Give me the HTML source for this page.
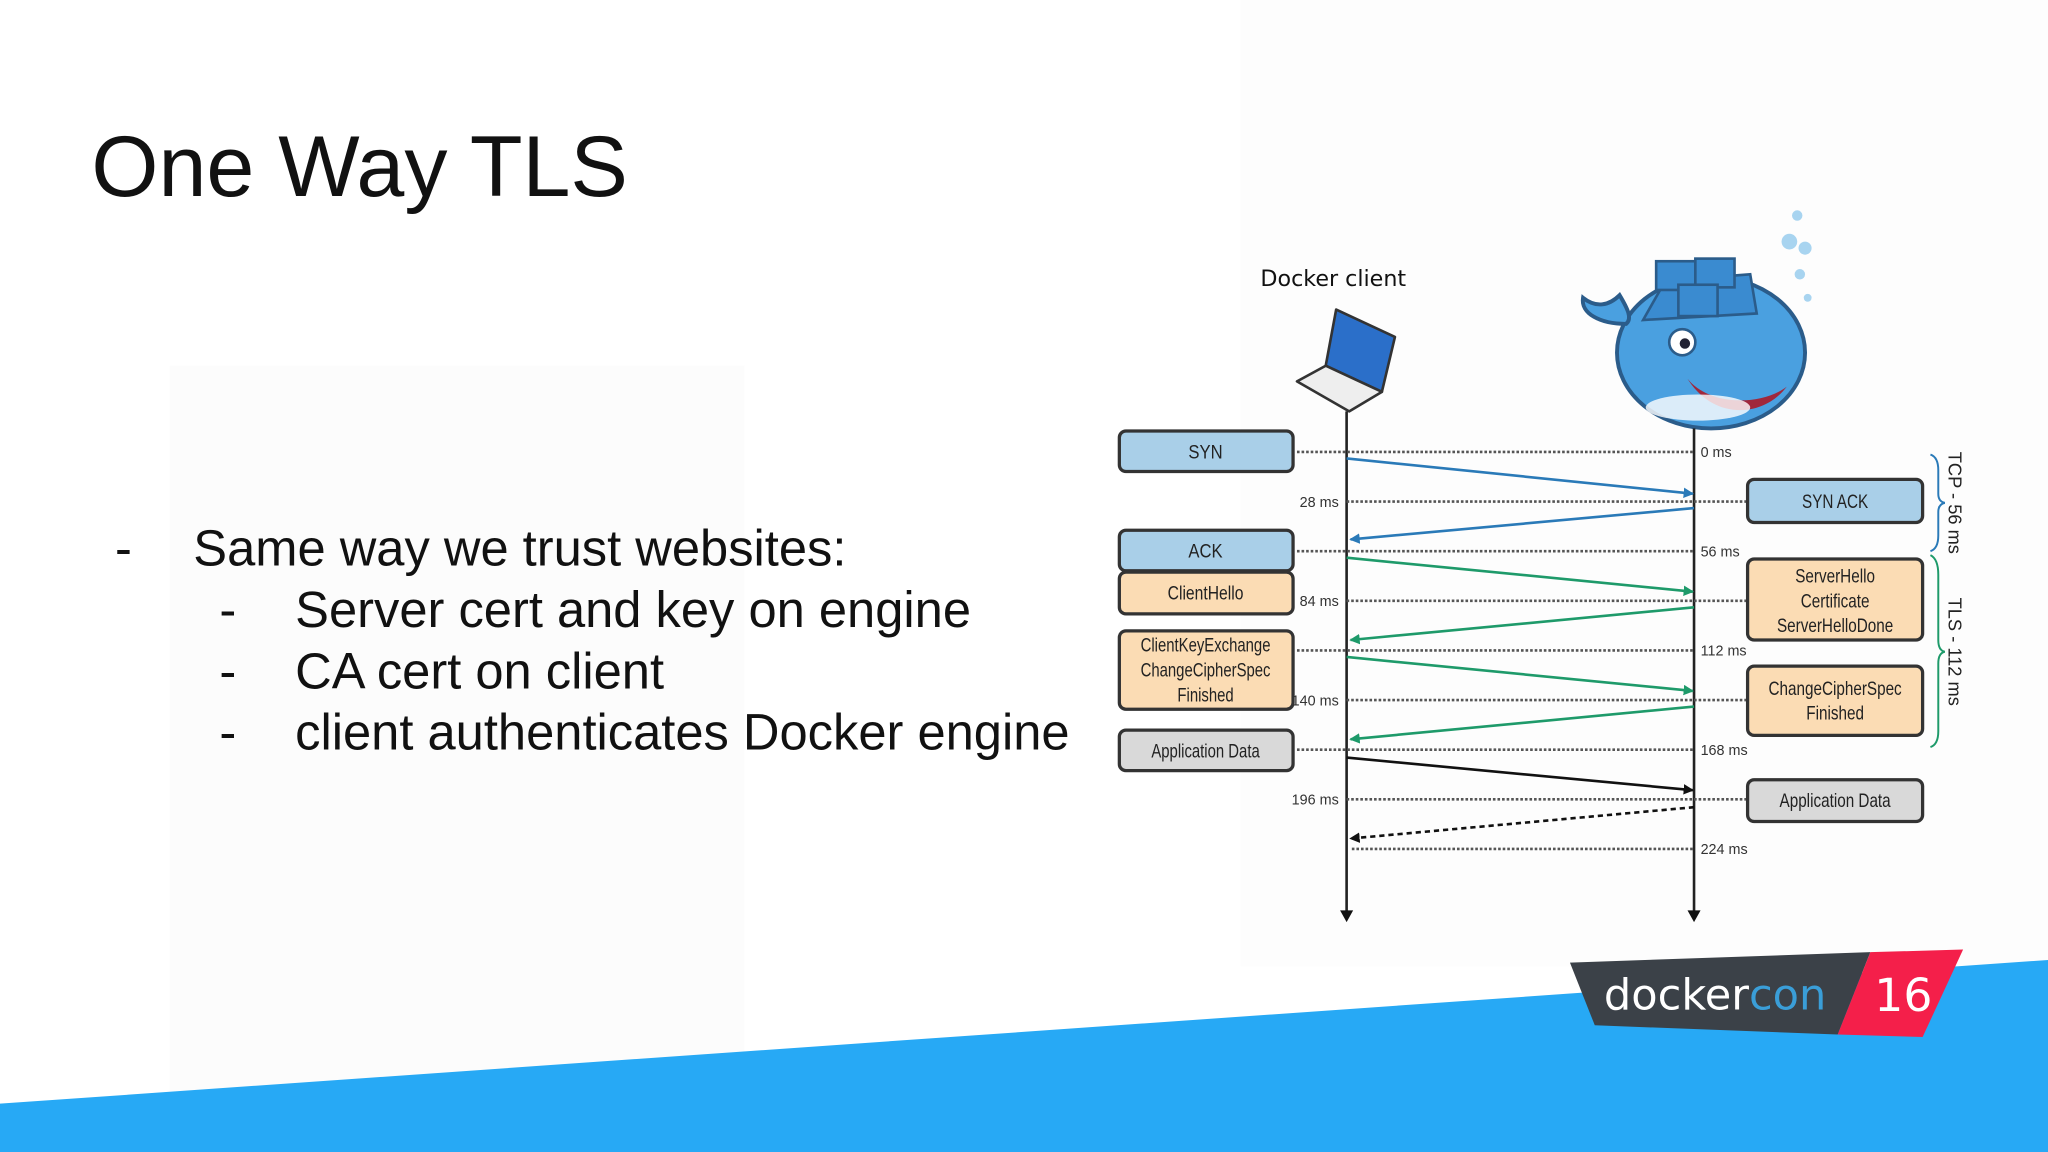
<!DOCTYPE html>
<html><head><meta charset="utf-8"><style>
html,body{margin:0;padding:0;background:#fff;}
svg{display:block;}
</style></head><body>
<svg width="2048" height="1152" viewBox="0 0 1568 882" xmlns="http://www.w3.org/2000/svg" font-family="Liberation Sans, sans-serif">
<defs>
<marker id="ab" markerWidth="8" markerHeight="8" refX="7" refY="4" orient="auto" markerUnits="userSpaceOnUse"><path d="M0,0 L8,4 L0,8z" fill="#2a7ab8"/></marker>
<marker id="ag" markerWidth="8" markerHeight="8" refX="7" refY="4" orient="auto" markerUnits="userSpaceOnUse"><path d="M0,0 L8,4 L0,8z" fill="#1e9a6a"/></marker>
<marker id="ak" markerWidth="8" markerHeight="8" refX="7" refY="4" orient="auto" markerUnits="userSpaceOnUse"><path d="M0,0 L8,4 L0,8z" fill="#111"/></marker>
</defs>
<rect width="1568" height="882" fill="#fff"/>
<rect x="130" y="280" width="440" height="560" fill="#fcfcfc"/>
<rect x="950" y="0" width="618" height="740" fill="#fdfdfd"/>
<!-- blue band -->
<path d="M0,845 L1568,735 L1568,882 L0,882z" fill="#27a9f5"/>
<!-- title -->
<text x="70" y="150" font-size="66" fill="#111">One Way TLS</text>
<g font-size="38.8" fill="#111">
<text x="88" y="433">-</text><text x="148" y="433">Same way we trust websites:</text>
<text x="168" y="480">-</text><text x="226" y="480">Server cert and key on engine</text>
<text x="168" y="527">-</text><text x="226" y="527">CA cert on client</text>
<text x="168" y="574">-</text><text x="226" y="574">client authenticates Docker engine</text>
</g>
<!-- docker client -->
<text x="965" y="219" font-size="17" fill="#111" font-family="DejaVu Sans, sans-serif">Docker client</text>
<g stroke="#333" stroke-width="2" stroke-linejoin="round">
<path d="M1023,237 L1068,258 L1058,300 L1015,280z" fill="#2b6fc9"/>
<path d="M1015,280 L1058,300 L1033,315 L993,292z" fill="#eee"/>
</g>
<!-- whale -->
<g>
<ellipse cx="1310" cy="270" rx="72" ry="58" fill="#4aa0e0" stroke="#2b5c8a" stroke-width="3"/>
<path d="M1245,248 C1225,248 1210,240 1212,228 C1222,236 1232,234 1240,226 C1246,236 1250,244 1245,248z" fill="#4aa0e0" stroke="#2b5c8a" stroke-width="3"/>
<path d="M1258,245 L1275,215 L1340,210 L1345,240z" fill="#3a8bd0" stroke="#2b5c8a" stroke-width="2"/>
<rect x="1268" y="200" width="30" height="22" fill="#3a8bd0" stroke="#2b5c8a" stroke-width="2"/>
<rect x="1298" y="198" width="30" height="22" fill="#3a8bd0" stroke="#2b5c8a" stroke-width="2"/>
<rect x="1285" y="218" width="30" height="24" fill="#3a8bd0" stroke="#2b5c8a" stroke-width="2"/>
<circle cx="1288" cy="262" r="10" fill="#fff" stroke="#2b5c8a" stroke-width="2"/><circle cx="1290" cy="263" r="4" fill="#223"/>
<path d="M1292,290 C1310,312 1350,310 1368,296 C1350,320 1312,322 1292,290z" fill="#a0283c"/>
<ellipse cx="1300" cy="312" rx="40" ry="10" fill="#fff" opacity="0.8"/>
<circle cx="1376" cy="165" r="4" fill="#a8d4f0"/><circle cx="1370" cy="185" r="6" fill="#a8d4f0"/><circle cx="1382" cy="190" r="5" fill="#a8d4f0"/><circle cx="1378" cy="210" r="4" fill="#a8d4f0"/><circle cx="1384" cy="228" r="3" fill="#a8d4f0"/>
</g>
<!-- lifelines -->
<g stroke="#222" stroke-width="2">
<line x1="1031" y1="315" x2="1031" y2="698"/><line x1="1297" y1="328" x2="1297" y2="698"/>
</g>
<path d="M1026,697 L1036,697 L1031,706z M1292,697 L1302,697 L1297,706z" fill="#111"/>
<!-- dotted -->
<g stroke="#555" stroke-width="2" stroke-dasharray="2,1.5">
<line x1="993" y1="346" x2="1297" y2="346"/>
<line x1="1031" y1="384" x2="1338" y2="384"/>
<line x1="993" y1="422" x2="1297" y2="422"/>
<line x1="1031" y1="460" x2="1338" y2="460"/>
<line x1="993" y1="498" x2="1297" y2="498"/>
<line x1="1031" y1="536" x2="1338" y2="536"/>
<line x1="993" y1="574" x2="1297" y2="574"/>
<line x1="1031" y1="612" x2="1338" y2="612"/>
<line x1="1035" y1="650" x2="1297" y2="650"/>
</g>
<!-- arrows -->
<g stroke-width="2" fill="none">
<line x1="1031" y1="351" x2="1296" y2="378" stroke="#2a7ab8" marker-end="url(#ab)"/>
<line x1="1297" y1="389" x2="1034" y2="413" stroke="#2a7ab8" marker-end="url(#ab)"/>
<line x1="1031" y1="427" x2="1296" y2="453" stroke="#1e9a6a" marker-end="url(#ag)"/>
<line x1="1297" y1="465" x2="1034" y2="490" stroke="#1e9a6a" marker-end="url(#ag)"/>
<line x1="1031" y1="503" x2="1296" y2="529" stroke="#1e9a6a" marker-end="url(#ag)"/>
<line x1="1297" y1="541" x2="1034" y2="566" stroke="#1e9a6a" marker-end="url(#ag)"/>
<line x1="1031" y1="580" x2="1296" y2="605" stroke="#111" marker-end="url(#ak)"/>
<line x1="1297" y1="618" x2="1034" y2="642" stroke="#111" stroke-dasharray="4,3" marker-end="url(#ak)"/>
</g>
<!-- boxes -->
<g stroke="#333" stroke-width="2.5">
<rect x="857" y="330" width="133" height="31" rx="5" fill="#a9cfe8"/>
<rect x="857" y="406" width="133" height="31" rx="5" fill="#a9cfe8"/>
<rect x="857" y="438" width="133" height="32" rx="5" fill="#fbdcb4"/>
<rect x="857" y="483" width="133" height="60" rx="5" fill="#fbdcb4"/>
<rect x="857" y="559" width="133" height="31" rx="5" fill="#d9d9d9"/>
<rect x="1338" y="367" width="134" height="33" rx="5" fill="#a9cfe8"/>
<rect x="1338" y="428" width="134" height="62" rx="5" fill="#fbdcb4"/>
<rect x="1338" y="510" width="134" height="53" rx="5" fill="#fbdcb4"/>
<rect x="1338" y="597" width="134" height="32" rx="5" fill="#d9d9d9"/>
</g>
<g font-size="15" fill="#222" text-anchor="middle" font-family="Liberation Sans Narrow, Liberation Sans, sans-serif">
<text x="923" y="351" transform="translate(923 0) scale(0.85 1) translate(-923 0)">SYN</text>
<text x="923" y="427" transform="translate(923 0) scale(0.85 1) translate(-923 0)">ACK</text>
<text x="923" y="459" transform="translate(923 0) scale(0.8 1) translate(-923 0)">ClientHello</text>
<g transform="translate(923 0) scale(0.76 1) translate(-923 0)">
<text x="923" y="499">ClientKeyExchange</text><text x="923" y="518">ChangeCipherSpec</text><text x="923" y="537">Finished</text>
<text x="923" y="580">Application Data</text>
</g>
<g transform="translate(1405 0) scale(0.78 1) translate(-1405 0)">
<text x="1405" y="389">SYN ACK</text>
<text x="1405" y="446">ServerHello</text><text x="1405" y="465">Certificate</text><text x="1405" y="484">ServerHelloDone</text>
<text x="1405" y="532">ChangeCipherSpec</text><text x="1405" y="551">Finished</text>
<text x="1405" y="618">Application Data</text>
</g>
</g>
<!-- time labels -->
<g font-size="11" fill="#333">
<g text-anchor="end"><text x="1025" y="388">28 ms</text><text x="1025" y="464">84 ms</text><text x="1025" y="540">140 ms</text><text x="1025" y="616">196 ms</text></g>
<text x="1302" y="350">0 ms</text><text x="1302" y="426">56 ms</text><text x="1302" y="502">112 ms</text><text x="1302" y="578">168 ms</text><text x="1302" y="654">224 ms</text>
</g>
<!-- braces -->
<path d="M1478,348 Q1484,350 1484,360 L1484,378 Q1484,384 1489,385 Q1484,386 1484,392 L1484,410 Q1484,420 1478,422" stroke="#2a7ab8" stroke-width="1.5" fill="none"/>
<path d="M1478,425 Q1484,428 1484,440 L1484,490 Q1484,498 1489,499 Q1484,500 1484,508 L1484,560 Q1484,570 1478,572" stroke="#1e9a6a" stroke-width="1.5" fill="none"/>
<g font-size="14" fill="#222">
<text transform="translate(1492 385) rotate(90)" text-anchor="middle">TCP - 56 ms</text>
<text transform="translate(1492 499) rotate(90)" text-anchor="middle">TLS - 112 ms</text>
</g>
<!-- dockercon logo -->
<path d="M1202,737 L1432,729 L1407,792 L1221,785z" fill="#3b4148"/>
<path d="M1432,729 L1503,727 L1472,794 L1407,792z" fill="#f41f4a"/>
<text x="1228" y="773" font-size="33" fill="#fff" font-family="DejaVu Sans, sans-serif">docker<tspan fill="#3a9ed8">con</tspan></text>
<text x="1435" y="774" font-size="35" fill="#fff" font-family="DejaVu Sans, sans-serif">16</text>
</svg>
</body></html>
